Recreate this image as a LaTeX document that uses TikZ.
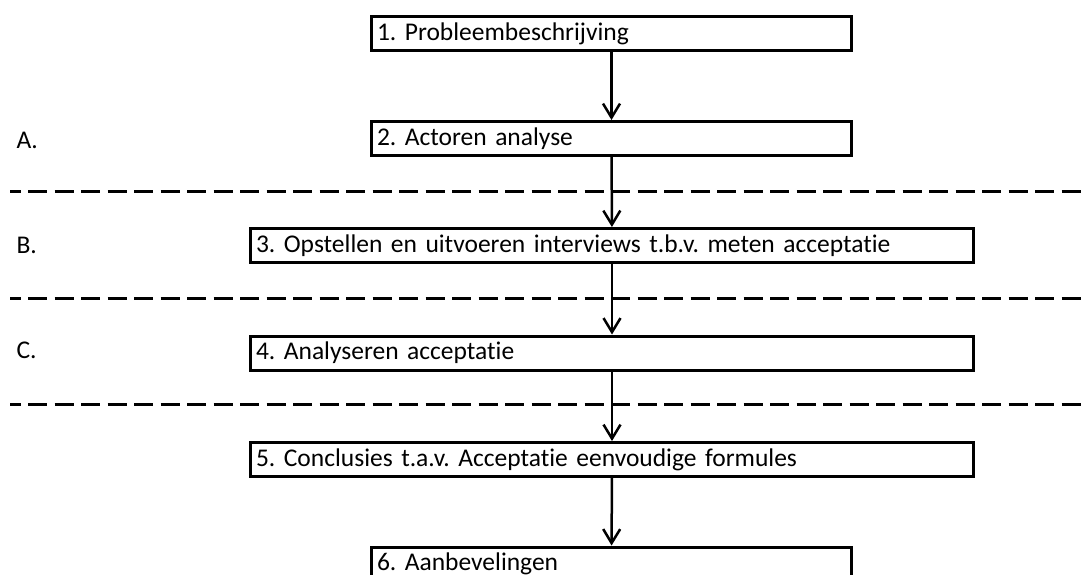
\documentclass[tikz,border=0pt]{standalone}
\usepackage{fontspec}
\setmainfont{Carlito}[Ligatures=NoCommon]
\frenchspacing
\usetikzlibrary{arrows.meta}

\begin{document}
\begin{tikzpicture}[x=1pt,y=-1pt,font=\fontsize{25.5}{29}\selectfont,
  stepbox/.style={draw,line width=3pt,rectangle,align=left,inner xsep=5.5pt,inner ysep=0pt,minimum height=34pt},
  smallbox/.style={stepbox,text width=469pt},
  widebox/.style={stepbox,text width=712pt},
  flow/.style={line width=2.5pt,-{Straight Barb[length=14pt,width=17pt,line width=2.5pt]}},
  phase/.style={line width=3pt,dash pattern=on 19pt off 7.5pt,dash phase=8.5pt}]
  \path[use as bounding box,clip] (0,0) rectangle (1086,575);
  % Steps of the study
  \node[smallbox] (s1) at (611.5,33.5) {1. Probleembeschrijving};
  \node[smallbox] (s2) at (611.5,138.5) {2. Actoren analyse};
  \node[widebox]  (s3) at (612,245.5) {3. Opstellen en uitvoeren interviews t.b.v. meten acceptatie};
  \node[widebox]  (s4) at (612,353) {4. Analyseren acceptatie};
  \node[widebox]  (s5) at (612,459.5) {5. Conclusies t.a.v. Acceptatie eenvoudige formules};
  \node[smallbox] (s6) at (611.5,564) {6. Aanbevelingen};
  \draw[flow] (s1) -- (s2);
  \draw[flow] (s2) -- (s3);
  \draw[flow] (s3) -- (s4);
  \draw[flow] (s4) -- (s5);
  \draw[flow] (s5) -- (s6);
  % Phases A, B and C
  \node[anchor=west] (pA) at (13,140) {A.};
  \node[anchor=west] (pB) at (13,245) {B.};
  \node[anchor=west] (pC) at (13,350) {C.};
  \coordinate (d1w) at (10,191);  \coordinate (d1e) at (1086,191);
  \coordinate (d2w) at (10,298);  \coordinate (d2e) at (1086,298);
  \coordinate (d3w) at (10,404);  \coordinate (d3e) at (1086,404);
  \draw[phase] (d1w) -- (d1e);
  \draw[phase] (d2w) -- (d2e);
  \draw[phase] (d3w) -- (d3e);
\end{tikzpicture}
\end{document}
